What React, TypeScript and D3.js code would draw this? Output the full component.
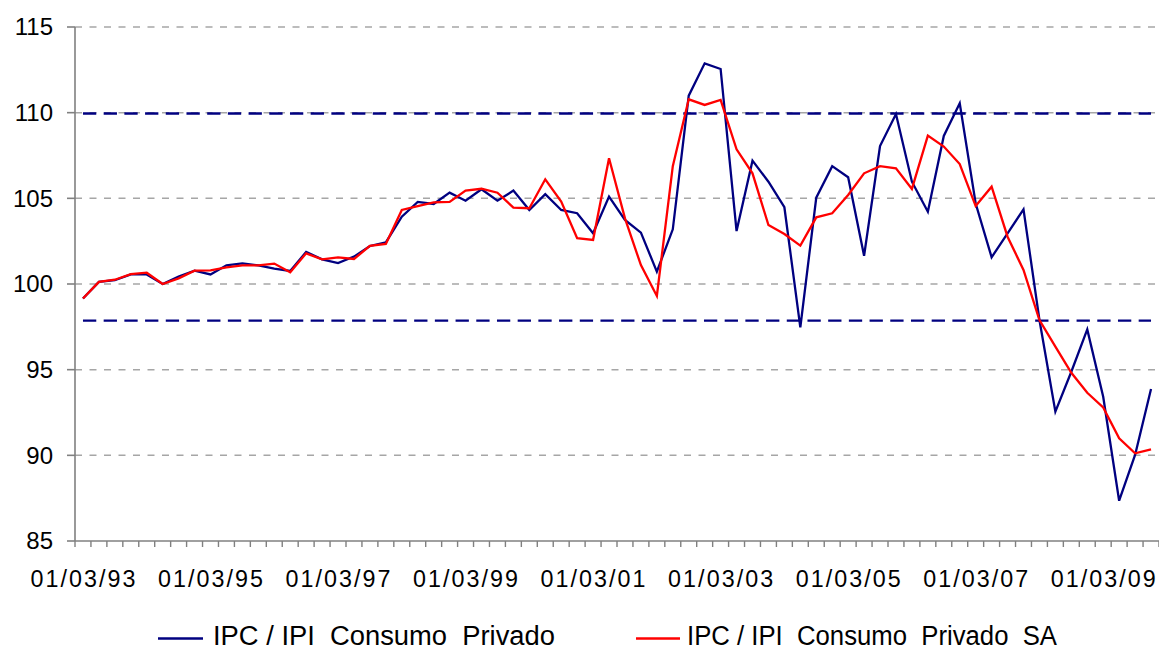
import React from "react";
import * as d3 from "d3";

const years = ["93","94","95","96","97","98","99","00","01","02","03","04","05","06","07","08","09"];
const months = ["03", "06", "09", "12"];
const categories: string[] = years.flatMap((y) => months.map((m) => `01/${m}/${y}`));

const tickLabels = ["01/03/93","01/03/95","01/03/97","01/03/99","01/03/01","01/03/03","01/03/05","01/03/07","01/03/09"];

const seriesNames = ["IPC / IPI  Consumo  Privado", "IPC / IPI  Consumo  Privado  SA"];

const ipcIpi = [
  99.15, 100.12, 100.22, 100.56, 100.56, 100.0, 100.43, 100.78,
  100.56, 101.09, 101.2, 101.09, 100.9, 100.76, 101.87, 101.44,
  101.22, 101.6, 102.22, 102.43, 103.93, 104.79, 104.67, 105.33,
  104.86, 105.53, 104.86, 105.45, 104.32, 105.24, 104.32, 104.13,
  102.96, 105.1, 103.74, 103.0, 100.72, 103.19, 110.99, 112.88,
  112.55, 103.09, 107.2, 105.97, 104.48, 97.47, 105.04, 106.88,
  106.23, 101.65, 108.05, 109.92, 105.97, 104.22, 108.64, 110.55,
  104.7, 101.56, 102.96, 104.36, 97.9, 92.55, 94.88, 97.35,
  93.42, 87.35, 90.02, 93.87,
];

const ipcIpiSA = [
  99.15, 100.12, 100.25, 100.58, 100.66, 100.0, 100.33, 100.78,
  100.8, 100.97, 101.09, 101.09, 101.19, 100.68, 101.79, 101.44,
  101.55, 101.46, 102.22, 102.34, 104.32, 104.55, 104.77, 104.79,
  105.45, 105.56, 105.33, 104.46, 104.42, 106.11, 104.81, 102.67,
  102.57, 107.34, 103.83, 101.1, 99.3, 106.88, 110.78, 110.45,
  110.74, 107.86, 106.46, 103.44, 102.92, 102.24, 103.89, 104.13,
  105.2, 106.46, 106.88, 106.75, 105.55, 108.66, 108.02, 107.0,
  104.55, 105.68, 102.76, 100.82, 97.9, 96.34, 94.82, 93.65,
  92.8, 90.99, 90.12, 90.35,
];

const bandLevels = [109.95, 97.86];
const yTicks = [85, 90, 95, 100, 105, 110, 115];

const W = 1159;
const H = 650;
const FONT = "'Liberation Sans', Arial, sans-serif";

export default function App() {
  const x = d3.scaleBand<string>().domain(categories).range([75, 1159]).padding(0);
  const y = d3.scaleLinear().domain([85, 115]).range([541, 27]);
  const cx = (c: string) => (x(c) as number) + x.bandwidth() / 2;

  const line = d3
    .line<number>()
    .x((_, i) => cx(categories[i]))
    .y((d) => y(d));

  const x0 = cx(categories[0]);
  const x1 = cx(categories[categories.length - 1]);

  const boundaries = categories.map((c) => x(c) as number).concat([1159]);

  return (
    <svg
      width={W}
      height={H}
      style={{ position: "absolute", left: 0, top: 0, background: "#fff" }}
      fontFamily={FONT}
    >
      <rect x={0} y={0} width={W} height={H} fill="#fff" />
      {yTicks.filter((t) => t !== 85).map((t) => (
        <line
          key={"g" + t}
          x1={75}
          x2={1159}
          y1={y(t)}
          y2={y(t)}
          stroke="#a6a6a6"
          strokeWidth={1.5}
          strokeDasharray="7 7.5"
        />
      ))}
      {bandLevels.map((v) => (
        <line
          key={"b" + v}
          x1={x0}
          x2={x1}
          y1={y(v)}
          y2={y(v)}
          stroke="#000080"
          strokeWidth={2.4}
          strokeDasharray="13.3 7.4"
        />
      ))}
      <line x1={75} x2={75} y1={y(115)} y2={y(85)} stroke="#808080" strokeWidth={1.6} />
      <line x1={75} x2={1159} y1={y(85)} y2={y(85)} stroke="#808080" strokeWidth={1.6} />
      {yTicks.map((t) => (
        <g key={"yt" + t}>
          <line x1={67} x2={75} y1={y(t)} y2={y(t)} stroke="#808080" strokeWidth={1.6} />
          <text x={53} y={y(t)} dy="0.35em" textAnchor="end" fontSize={24} fill="#000">
            {t}
          </text>
        </g>
      ))}
      {boundaries.map((b, i) => (
        <line key={"xt" + i} x1={b} x2={b} y1={y(85)} y2={y(85) + 6} stroke="#808080" strokeWidth={1.4} />
      ))}
      {categories.map((c, i) =>
        tickLabels.includes(c) ? (
          <text
            key={"xl" + i}
            x={cx(c) - 52.5}
            y={586.5}
            fontSize={23.3}
            textLength={105}
            lengthAdjust="spacing"
            fill="#000"
          >
            {c}
          </text>
        ) : null
      )}
      <path d={line(ipcIpi) || ""} fill="none" stroke="#000080" strokeWidth={2.3} strokeLinejoin="miter" />
      <path d={line(ipcIpiSA) || ""} fill="none" stroke="#ff0000" strokeWidth={2.3} strokeLinejoin="miter" />
      <line x1={158} x2={203} y1={638.5} y2={638.5} stroke="#000080" strokeWidth={2.3} />
      <text
        x={213}
        y={644.5}
        fontSize={27}
        textLength={342}
        lengthAdjust="spacingAndGlyphs"
        fill="#000"
        style={{ whiteSpace: "pre" }}
      >
        {seriesNames[0]}
      </text>
      <line x1={636} x2={680} y1={638.5} y2={638.5} stroke="#ff0000" strokeWidth={2.3} />
      <text
        x={687}
        y={644.5}
        fontSize={27}
        textLength={370}
        lengthAdjust="spacingAndGlyphs"
        fill="#000"
        style={{ whiteSpace: "pre" }}
      >
        {seriesNames[1]}
      </text>
    </svg>
  );
}
